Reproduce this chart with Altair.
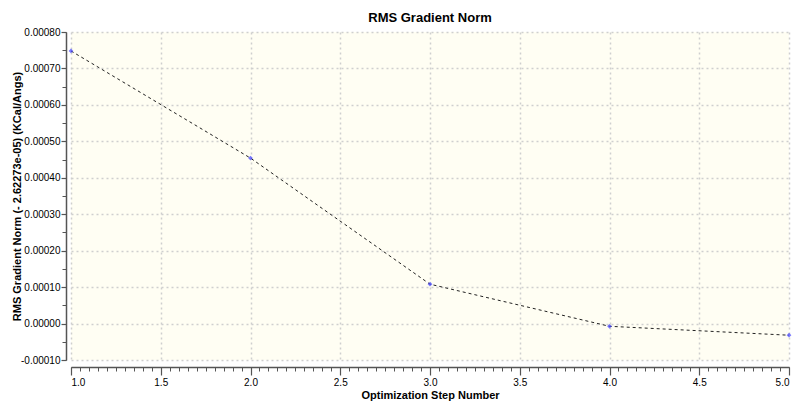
import altair as alt
import pandas as pd

steps = [1.0, 2.0, 3.0, 4.0, 5.0]
norms = [0.000748, 0.000454, 0.000108, -0.0000075, -0.000032]

x_major = [1.0, 1.5, 2.0, 2.5, 3.0, 3.5, 4.0, 4.5, 5.0]
x_minor = [round(1.0 + 0.05 * i, 2) for i in range(81)]
y_major = [-0.0001, 0.0, 0.0001, 0.0002, 0.0003, 0.0004, 0.0005, 0.0006, 0.0007, 0.0008]
y_minor = [round(-0.0001 + 0.00005 * i, 6) for i in range(19)]

df = pd.DataFrame({"step": steps, "norm": norms})

FONT = "Liberation Sans"
xs = alt.Scale(domain=[1.0, 5.0], nice=False, zero=False)
ys = alt.Scale(domain=[-0.0001, 0.0008], nice=False, zero=False)

base = alt.Chart(df)

grid = base.mark_point(opacity=0).encode(
    x=alt.X("step:Q", scale=xs, axis=alt.Axis(
        orient="bottom", values=x_major, grid=True, gridColor="#cfcfcf",
        gridDash=[2, 3], gridWidth=1.5, domain=False, ticks=False,
        labels=False, title=None)),
    y=alt.Y("norm:Q", scale=ys, axis=alt.Axis(
        orient="left", values=y_major, grid=True, gridColor="#cfcfcf",
        gridDash=[2, 3], gridWidth=1.5, domain=False, ticks=False,
        labels=False, title=None)),
)

major = base.mark_point(opacity=0).encode(
    x=alt.X("step:Q", scale=xs, axis=alt.Axis(
        orient="bottom", values=x_major, grid=False, offset=7,
        domainColor="#555555", domainWidth=1.5, tickColor="#555555",
        tickSize=8, tickWidth=1.2, labelFont=FONT, labelFontSize=10,
        labelColor="#000000", labelPadding=2, format=".1f",
        title="Optimization Step Number", titleFont=FONT, titleFontSize=11,
        titleFontWeight="bold", titleColor="#000000", titlePadding=2)),
    y=alt.Y("norm:Q", scale=ys, axis=alt.Axis(
        orient="left", values=y_major, grid=False, offset=5,
        domainColor="#555555", domainWidth=1.5, tickColor="#555555",
        tickSize=5, tickWidth=1.2, labelFont=FONT, labelFontSize=10,
        labelColor="#000000", labelPadding=1,
        labelExpr="replace(format(datum.value, '.5f'), '\u2212', '-')",
        title="RMS Gradient Norm (- 2.62273e-05) (KCal/Angs)", titleFont=FONT,
        titleFontSize=11, titleFontWeight="bold", titleColor="#000000",
        titleX=-49, titleY=164, titleAngle=270, titleAlign="center",
        titleBaseline="middle")),
)

minor = base.mark_point(opacity=0).encode(
    x=alt.X("step:Q", scale=xs, axis=alt.Axis(
        orient="bottom", values=x_minor, grid=False, offset=7, domain=False,
        tickColor="#555555", tickSize=4, tickWidth=1, labels=False, title=None)),
    y=alt.Y("norm:Q", scale=ys, axis=alt.Axis(
        orient="left", values=y_minor, grid=False, offset=5, domain=False,
        tickColor="#555555", tickSize=4, tickWidth=1, labels=False, title=None)),
)

line = base.mark_line(color="#222222", strokeDash=[3, 3], strokeWidth=1).encode(
    x=alt.X("step:Q", scale=xs, axis=None),
    y=alt.Y("norm:Q", scale=ys, axis=None),
)

pts = base.mark_point(shape="diamond", filled=True, color="#4040ff", size=22).encode(
    x=alt.X("step:Q", scale=xs, axis=None),
    y=alt.Y("norm:Q", scale=ys, axis=None),
)

chart = alt.layer(grid, major, minor, line, pts).resolve_axis(
    x="independent", y="independent"
).properties(
    width=718, height=328,
    title=alt.TitleParams("RMS Gradient Norm", font=FONT, fontSize=13,
                          fontWeight="bold", color="#000000", offset=2),
    autosize=alt.AutoSizeParams(type="none"),
    padding={"left": 63, "top": 24, "right": 3, "bottom": 41},
    background="#ffffff",
).configure_view(fill="#fffef3", strokeWidth=0)

chart.save("out.html", embed_options={"renderer": "svg", "actions": False})
